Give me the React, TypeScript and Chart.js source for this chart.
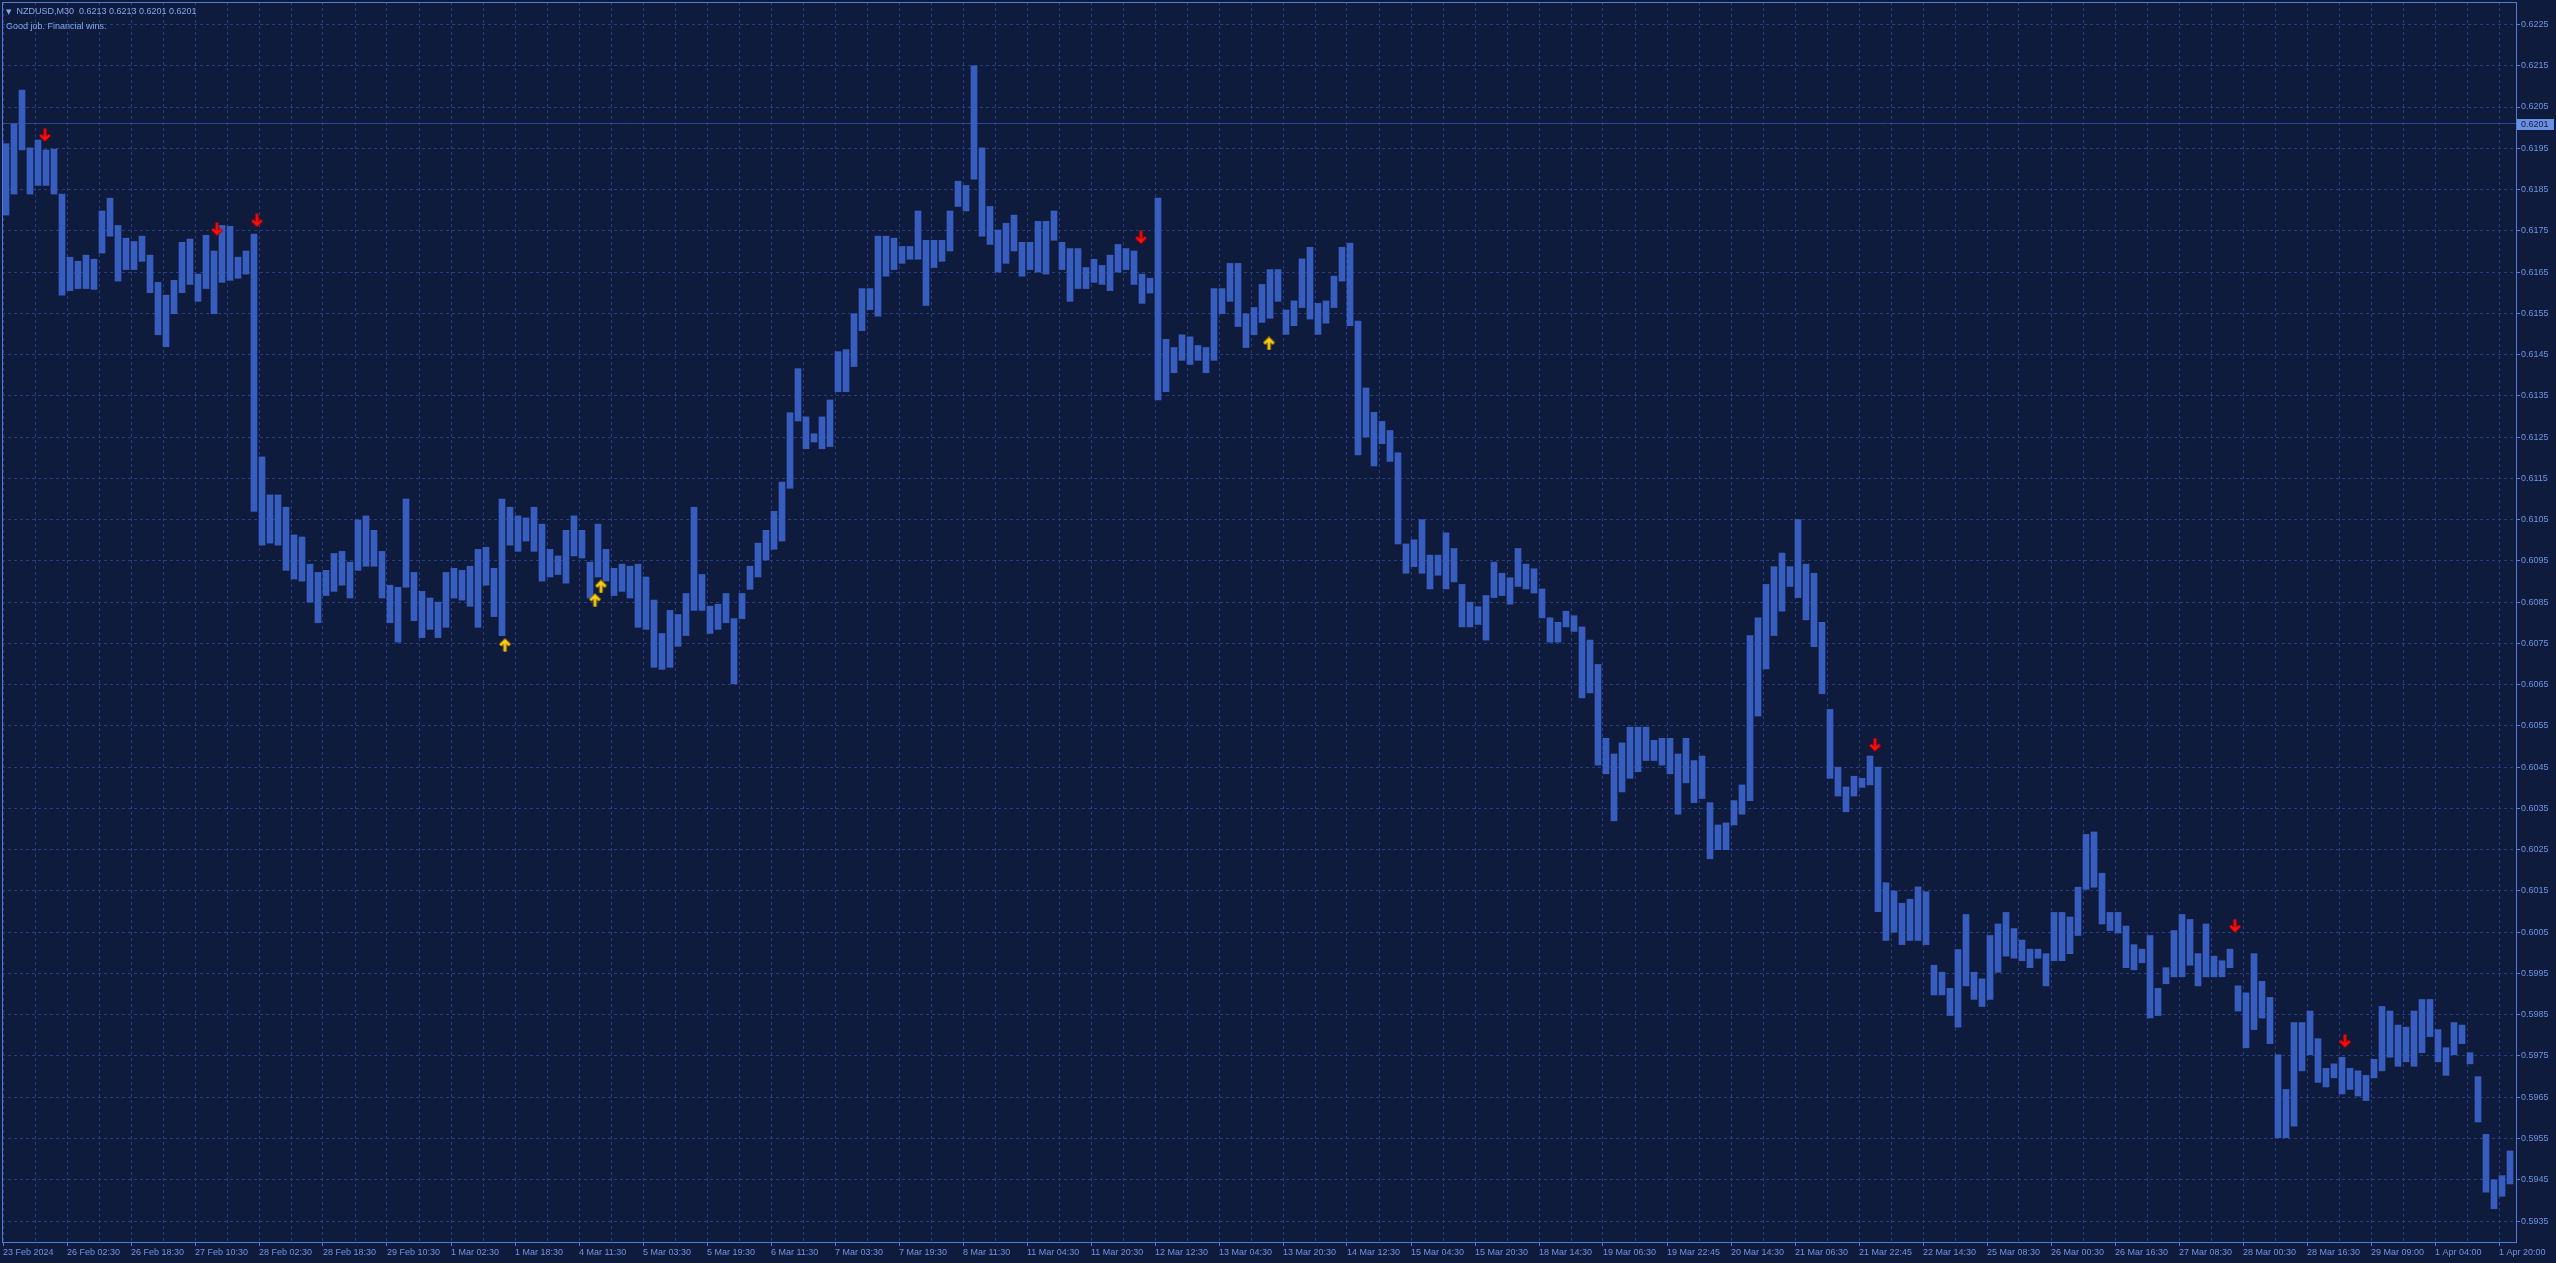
import React, { useEffect, useRef } from "react";
import { Chart, registerables } from "chart.js";

Chart.register(...registerables);

// ---------- text ----------
const SYMBOL_TEXT = "NZDUSD,M30";
const OHLC_TEXT = "0.6213 0.6213 0.6201 0.6201";
const COMMENT_TEXT = "Good job. Financial wins.";
const LAST_PRICE = 0.6201;

// ---------- axis ----------
const TOTAL_BARS = 1256; // M30 bars shown
const BARS_PER_GROUP = 4; // each data entry = 4 consecutive M30 bars (high / low)
const LABEL_EVERY = 32; // bars between time labels
const GRID_EVERY = 16; // bars between vertical grid lines
const Y_MIN = 0.592992;
const Y_MAX = 0.623045;

const X_LABELS = [
  "23 Feb 2024", "26 Feb 02:30", "26 Feb 18:30", "27 Feb 10:30", "28 Feb 02:30",
  "28 Feb 18:30", "29 Feb 10:30", "1 Mar 02:30", "1 Mar 18:30", "4 Mar 11:30",
  "5 Mar 03:30", "5 Mar 19:30", "6 Mar 11:30", "7 Mar 03:30", "7 Mar 19:30",
  "8 Mar 11:30", "11 Mar 04:30", "11 Mar 20:30", "12 Mar 12:30", "13 Mar 04:30",
  "13 Mar 20:30", "14 Mar 12:30", "15 Mar 04:30", "15 Mar 20:30", "18 Mar 14:30",
  "19 Mar 06:30", "19 Mar 22:45", "20 Mar 14:30", "21 Mar 06:30", "21 Mar 22:45",
  "22 Mar 14:30", "25 Mar 08:30", "26 Mar 00:30", "26 Mar 16:30", "27 Mar 08:30",
  "28 Mar 00:30", "28 Mar 16:30", "29 Mar 09:00", "1 Apr 04:00", "1 Apr 20:00",
];

const Y_TICKS = [
  0.5935, 0.5945, 0.5955, 0.5965, 0.5975, 0.5985, 0.5995, 0.6005, 0.6015, 0.6025,
  0.6035, 0.6045, 0.6055, 0.6065, 0.6075, 0.6085, 0.6095, 0.6105, 0.6115, 0.6125,
  0.6135, 0.6145, 0.6155, 0.6165, 0.6175, 0.6185, 0.6195, 0.6205, 0.6215, 0.6225,
];

// ---------- price data (pips, x 0.0001), one entry per 4 bars ----------
const HIGH_PIPS = [
  6196.1, 6200.9, 6209.1, 6195.1, 6197.0, 6194.6, 6194.8, 6183.9, 6168.6, 6167.6,
  6169.1, 6168.1, 6179.8, 6182.9, 6176.3, 6173.2, 6172.4, 6173.7, 6169.1, 6162.5,
  6159.4, 6163.0, 6172.2, 6173.0, 6164.5, 6173.9, 6170.1, 6176.3, 6176.1, 6168.6,
  6170.1, 6174.2, 6120.2, 6111.0, 6111.0, 6108.0, 6101.3, 6100.8, 6094.2, 6092.2,
  6092.7, 6096.8, 6097.3, 6094.7, 6104.9, 6105.9, 6102.4, 6097.3, 6089.1, 6088.6,
  6110.0, 6092.2, 6087.6, 6086.0, 6085.0, 6092.2, 6093.2, 6092.7, 6093.7, 6097.8,
  6098.3, 6093.2, 6110.0, 6108.0, 6105.9, 6105.4, 6108.0, 6103.9, 6097.8, 6096.2,
  6102.4, 6105.9, 6102.4, 6094.7, 6103.9, 6097.8, 6093.2, 6094.2, 6093.7, 6094.2,
  6091.1, 6085.5, 6077.4, 6083.0, 6082.0, 6087.1, 6108.0, 6091.7, 6084.0, 6084.5,
  6087.1, 6081.0, 6087.1, 6093.7, 6099.3, 6102.4, 6107.0, 6114.1, 6130.9, 6141.6,
  6129.9, 6125.8, 6129.9, 6134.0, 6145.7, 6146.2, 6154.9, 6161.0, 6161.0, 6173.7,
  6173.7, 6173.2, 6171.2, 6171.2, 6179.8, 6172.7, 6172.7, 6172.7, 6179.8, 6187.0,
  6186.0, 6215.0, 6195.1, 6180.9, 6175.2, 6176.8, 6178.8, 6172.2, 6172.2, 6177.3,
  6177.3, 6179.8, 6172.2, 6170.7, 6170.7, 6166.1, 6168.1, 6166.6, 6169.1, 6171.7,
  6170.7, 6170.1, 6164.5, 6163.5, 6182.9, 6148.7, 6146.7, 6149.8, 6149.3, 6147.2,
  6146.7, 6161.0, 6161.0, 6167.1, 6167.1, 6154.9, 6156.4, 6162.0, 6165.6, 6165.6,
  6155.8, 6158.0, 6168.2, 6171.0, 6157.4, 6158.0, 6164.0, 6171.0, 6172.0, 6153.1,
  6136.9, 6131.0, 6128.8, 6126.6, 6121.2, 6099.1, 6100.1, 6105.0, 6096.4, 6096.4,
  6101.8, 6098.0, 6089.3, 6085.0, 6083.9, 6086.6, 6094.7, 6092.0, 6090.9, 6098.0,
  6094.2, 6093.1, 6088.2, 6081.2, 6080.1, 6082.8, 6081.7, 6079.0, 6075.8, 6069.9,
  6052.0, 6048.2, 6050.9, 6054.7, 6054.7, 6054.7, 6051.5, 6052.0, 6052.0, 6048.2,
  6052.0, 6046.6, 6047.7, 6036.4, 6031.0, 6031.5, 6036.9, 6040.7, 6076.9, 6081.2,
  6089.3, 6093.6, 6096.9, 6093.6, 6105.0, 6094.2, 6092.0, 6080.1, 6059.0, 6045.0,
  6040.2, 6042.8, 6042.3, 6047.7, 6045.0, 6017.0, 6015.0, 6012.0, 6013.0, 6016.0,
  6014.8, 5997.0, 5995.3, 5991.4, 6000.8, 6009.3, 5995.3, 5993.7, 6004.2, 6007.0,
  6009.8, 6005.9, 6003.1, 6000.9, 6000.9, 5999.8, 6009.8, 6009.8, 6008.7, 6015.9,
  6028.7, 6029.3, 6019.3, 6009.8, 6009.8, 6006.5, 6002.0, 6000.9, 6004.2, 5991.4,
  5996.4, 6005.4, 6009.3, 6008.1, 5999.8, 6007.0, 5999.2, 5998.1, 6000.9, 5992.0,
  5990.3, 5999.8, 5993.1, 5989.2, 5975.3, 5966.9, 5983.1, 5983.1, 5985.9, 5979.2,
  5972.0, 5973.1, 5974.7, 5972.0, 5971.4, 5970.3, 5974.2, 5987.0, 5985.9, 5982.5,
  5982.0, 5985.9, 5988.7, 5988.7, 5981.4, 5977.0, 5983.1, 5982.5, 5975.8, 5970.0,
  5956.0, 5945.0, 5946.0, 5952.0,
];

const LOW_PIPS = [
  6178.8, 6183.9, 6194.6, 6183.9, 6186.0, 6186.0, 6183.9, 6159.4, 6160.5, 6161.0,
  6161.0, 6160.8, 6169.6, 6173.7, 6162.8, 6165.6, 6165.6, 6167.6, 6160.0, 6149.8,
  6146.9, 6154.9, 6160.0, 6162.0, 6157.9, 6161.0, 6154.9, 6162.5, 6163.0, 6163.5,
  6164.5, 6107.0, 6098.8, 6099.3, 6098.8, 6092.7, 6090.6, 6090.1, 6085.0, 6080.0,
  6086.6, 6087.6, 6089.1, 6086.0, 6092.7, 6093.7, 6093.7, 6086.0, 6080.0, 6075.3,
  6088.6, 6080.5, 6076.4, 6078.4, 6076.4, 6078.9, 6086.0, 6085.5, 6084.0, 6078.9,
  6089.1, 6081.5, 6076.9, 6098.8, 6097.3, 6099.8, 6097.3, 6090.1, 6091.1, 6091.7,
  6089.6, 6096.2, 6095.7, 6086.0, 6091.1, 6090.1, 6086.6, 6087.6, 6086.0, 6078.9,
  6078.4, 6069.2, 6068.7, 6069.2, 6074.3, 6076.9, 6083.0, 6083.0, 6077.4, 6078.4,
  6080.0, 6065.2, 6081.0, 6088.1, 6091.1, 6095.2, 6097.8, 6099.8, 6112.6, 6128.9,
  6122.2, 6123.8, 6122.2, 6122.7, 6136.0, 6136.0, 6142.1, 6150.8, 6155.9, 6154.3,
  6164.0, 6165.6, 6167.1, 6168.1, 6168.1, 6156.9, 6166.1, 6167.6, 6170.1, 6180.9,
  6179.8, 6187.5, 6173.7, 6171.7, 6165.0, 6167.1, 6170.1, 6164.0, 6165.6, 6165.0,
  6164.5, 6172.7, 6165.6, 6157.9, 6161.0, 6161.0, 6162.5, 6162.0, 6160.5, 6165.0,
  6165.6, 6162.0, 6157.4, 6159.9, 6134.0, 6136.0, 6140.6, 6143.6, 6142.6, 6143.6,
  6140.6, 6143.6, 6154.9, 6157.9, 6151.8, 6146.7, 6149.8, 6152.8, 6153.8, 6157.9,
  6149.9, 6152.0, 6156.4, 6153.6, 6149.9, 6152.6, 6156.4, 6162.8, 6152.0, 6120.7,
  6125.0, 6118.0, 6123.4, 6119.1, 6099.1, 6092.0, 6093.6, 6092.0, 6088.2, 6091.5,
  6088.2, 6089.9, 6079.0, 6079.0, 6079.6, 6075.8, 6086.1, 6086.6, 6084.5, 6088.8,
  6088.2, 6087.2, 6081.2, 6075.3, 6075.3, 6079.0, 6077.9, 6061.8, 6063.0, 6045.5,
  6043.4, 6032.0, 6039.0, 6042.3, 6043.9, 6046.6, 6046.6, 6045.5, 6043.4, 6033.6,
  6041.2, 6036.4, 6037.4, 6022.8, 6025.0, 6025.0, 6031.0, 6033.6, 6036.9, 6057.4,
  6068.8, 6076.9, 6082.8, 6088.8, 6086.1, 6080.7, 6074.2, 6062.8, 6042.3, 6038.0,
  6034.2, 6038.0, 6040.1, 6040.7, 6010.0, 6003.0, 6005.0, 6002.0, 6003.0, 6003.0,
  6002.0, 5989.8, 5989.8, 5984.8, 5982.0, 5992.0, 5988.7, 5987.0, 5988.7, 5995.3,
  5999.2, 5998.7, 5998.1, 5996.4, 5998.7, 5992.0, 5998.1, 5998.1, 5999.8, 6004.2,
  6015.4, 6015.9, 6007.0, 6005.4, 6004.8, 5996.4, 5995.9, 5997.6, 5984.2, 5984.8,
  5992.5, 5994.2, 5994.2, 5997.0, 5992.0, 5994.2, 5994.2, 5994.2, 5996.4, 5985.9,
  5977.0, 5981.4, 5984.2, 5978.0, 5955.2, 5955.2, 5958.0, 5971.4, 5975.3, 5968.6,
  5967.5, 5969.7, 5965.8, 5966.9, 5965.3, 5964.2, 5969.7, 5971.4, 5974.7, 5972.5,
  5973.6, 5972.5, 5975.8, 5979.7, 5973.6, 5970.3, 5975.3, 5978.0, 5973.1, 5959.0,
  5942.0, 5938.0, 5941.0, 5944.0,
];

// ---------- signal arrows ----------
const SELL_BARS = [21, 107, 127, 569, 936, 1116, 1171];
const SELL_PRICES = [0.61982, 0.61754, 0.61775, 0.61734, 0.60504, 0.60065, 0.59786];
const BUY_BARS = [251, 296, 299, 633];
const BUY_PRICES = [0.60746, 0.60855, 0.60888, 0.61477];

// ---------- style ----------
const BG = "#0f1b3d";
const GRID = "#243e80";
const BAR_COLOR = "#375dbf";
const AXIS = "#5579d4";
const TEXT = "#7194e2";
const PRICE_LINE = "#2b4a8e";
const FONT_FAMILY = '"Liberation Sans", Arial, sans-serif';

function makeArrow(fill: string, edge: string, down: boolean): HTMLCanvasElement {
  const c = document.createElement("canvas");
  c.width = 13;
  c.height = 14;
  const g = c.getContext("2d")!;
  if (!down) {
    g.translate(0, 14);
    g.scale(1, -1);
  }
  const path = () => {
    g.beginPath();
    g.moveTo(6.5, 0.5);
    g.lineTo(6.5, 11.5);
    g.moveTo(1.8, 6.8);
    g.lineTo(6.5, 11.5);
    g.lineTo(11.2, 6.8);
  };
  g.lineJoin = "miter";
  g.lineCap = "butt";
  g.strokeStyle = edge;
  g.lineWidth = 3.8;
  path();
  g.stroke();
  g.strokeStyle = fill;
  g.lineWidth = 2.2;
  path();
  g.stroke();
  return c;
}

export default function App() {
  const canvasRef = useRef<HTMLCanvasElement | null>(null);

  useEffect(() => {
    document.documentElement.style.overflow = "hidden";
    document.body.style.margin = "0";
    document.body.style.overflow = "hidden";
    document.body.style.background = BG;

    const canvas = canvasRef.current;
    if (!canvas) return;

    const bars = HIGH_PIPS.map((h, g) => ({
      x: g * BARS_PER_GROUP + (BARS_PER_GROUP - 1) / 2,
      y: [LOW_PIPS[g] / 10000, h / 10000],
    }));
    const sell = SELL_BARS.map((b, i) => ({ x: b, y: SELL_PRICES[i] }));
    const buy = BUY_BARS.map((b, i) => ({ x: b, y: BUY_PRICES[i] }));

    const xTicks: number[] = [];
    for (let v = 0; v < TOTAL_BARS; v += GRID_EVERY) xTicks.push(v);

    const redArrow = makeArrow("#ff1010", "#8a0000", true);
    const yellowArrow = makeArrow("#ffd21a", "#8a6a00", false);

    const overlay = {
      id: "mtFrame",
      afterDraw(chart: any) {
        const { ctx, chartArea } = chart;
        const { left, top, right, bottom } = chartArea;
        ctx.save();
        ctx.strokeStyle = AXIS;
        ctx.lineWidth = 1;
        ctx.strokeRect(left + 0.5, top + 0.5, right - left, bottom - top);
        // last price tag
        const y = chart.scales.y.getPixelForValue(LAST_PRICE);
        ctx.fillStyle = "#6c90e2";
        ctx.fillRect(right + 1, Math.round(y) - 5, 37, 11);
        ctx.fillStyle = "#0f1b3d";
        ctx.font = `9px ${FONT_FAMILY}`;
        ctx.textBaseline = "middle";
        ctx.textAlign = "left";
        ctx.fillText(LAST_PRICE.toFixed(4), right + 5, Math.round(y) + 0.5);
        ctx.restore();
      },
    };

    const chart = new Chart(canvas, {
      type: "bar",
      data: {
        datasets: [
          {
            type: "line",
            data: [
              { x: -0.5, y: LAST_PRICE },
              { x: TOTAL_BARS + 0.5, y: LAST_PRICE },
            ],
            borderColor: PRICE_LINE,
            borderWidth: 1,
            pointRadius: 0,
            order: 3,
          } as any,
          {
            type: "bar",
            data: bars as any,
            backgroundColor: BAR_COLOR,
            borderWidth: 0,
            barThickness: 6,
            grouped: false,
            order: 2,
          } as any,
          {
            type: "line",
            data: sell,
            showLine: false,
            pointStyle: redArrow,
            pointRadius: 7,
            order: 1,
          } as any,
          {
            type: "line",
            data: buy,
            showLine: false,
            pointStyle: yellowArrow,
            pointRadius: 7,
            order: 0,
          } as any,
        ],
      },
      options: {
        animation: false,
        responsive: false,
        devicePixelRatio: 1,
        events: [],
        layout: { autoPadding: false, padding: { left: 2, top: 2, right: 0, bottom: 0 } },
        plugins: {
          legend: { display: false },
          tooltip: { enabled: false },
          title: { display: false },
        },
        scales: {
          x: {
            type: "linear",
            position: "bottom",
            min: -0.5,
            max: TOTAL_BARS + 0.5,
            offset: false,
            afterBuildTicks: (s: any) => {
              s.ticks = xTicks.map((v) => ({ value: v }));
            },
            afterFit: (s: any) => {
              s.height = 21;
              s.paddingLeft = 0;
              s.paddingRight = 0;
              s.paddingTop = 0;
              s.paddingBottom = 0;
            },
            grid: {
              color: GRID,
              lineWidth: 1,
              offset: false,
              tickLength: 4,
              tickColor: (c: any) =>
                c.tick && c.tick.value % LABEL_EVERY === 0 ? AXIS : "rgba(0,0,0,0)",
            },
            border: { display: false, dash: [3, 3] },
            ticks: {
              autoSkip: false,
              maxRotation: 0,
              minRotation: 0,
              align: "start",
              padding: 1,
              color: TEXT,
              font: { family: FONT_FAMILY, size: 9 },
              callback: (v: any) =>
                Number(v) % LABEL_EVERY === 0 ? X_LABELS[Number(v) / LABEL_EVERY] ?? "" : "",
            },
          },
          y: {
            type: "linear",
            position: "right",
            min: Y_MIN,
            max: Y_MAX,
            beginAtZero: false,
            afterBuildTicks: (s: any) => {
              s.ticks = Y_TICKS.map((v) => ({ value: v }));
            },
            afterFit: (s: any) => {
              s.width = 40;
              s.paddingTop = 0;
              s.paddingBottom = 0;
              s.paddingLeft = 0;
              s.paddingRight = 0;
            },
            grid: { color: GRID, lineWidth: 1, tickLength: 4, tickColor: AXIS },
            border: { display: false, dash: [3, 3] },
            ticks: {
              padding: 1,
              color: TEXT,
              font: { family: FONT_FAMILY, size: 9 },
              callback: (v: any) => Number(v).toFixed(4),
            },
          },
        },
      } as any,
      plugins: [overlay],
    });

    return () => chart.destroy();
  }, []);

  return (
    <div
      style={{
        position: "relative",
        width: 2556,
        height: 1263,
        background: BG,
        overflow: "hidden",
      }}
    >
      <canvas ref={canvasRef} width={2556} height={1263} style={{ display: "block" }} />
      <div
        style={{
          position: "absolute",
          left: 6,
          top: 4,
          font: `9px ${FONT_FAMILY}`,
          lineHeight: "14px",
          color: "#86a8ee",
          whiteSpace: "pre",
        }}
      >
        <div>
          <span style={{ fontSize: 7, marginRight: 5, fontFamily: '"DejaVu Sans", sans-serif' }}>▼</span>
          {SYMBOL_TEXT}  {OHLC_TEXT}
        </div>
        <div>{COMMENT_TEXT}</div>
      </div>
    </div>
  );
}
